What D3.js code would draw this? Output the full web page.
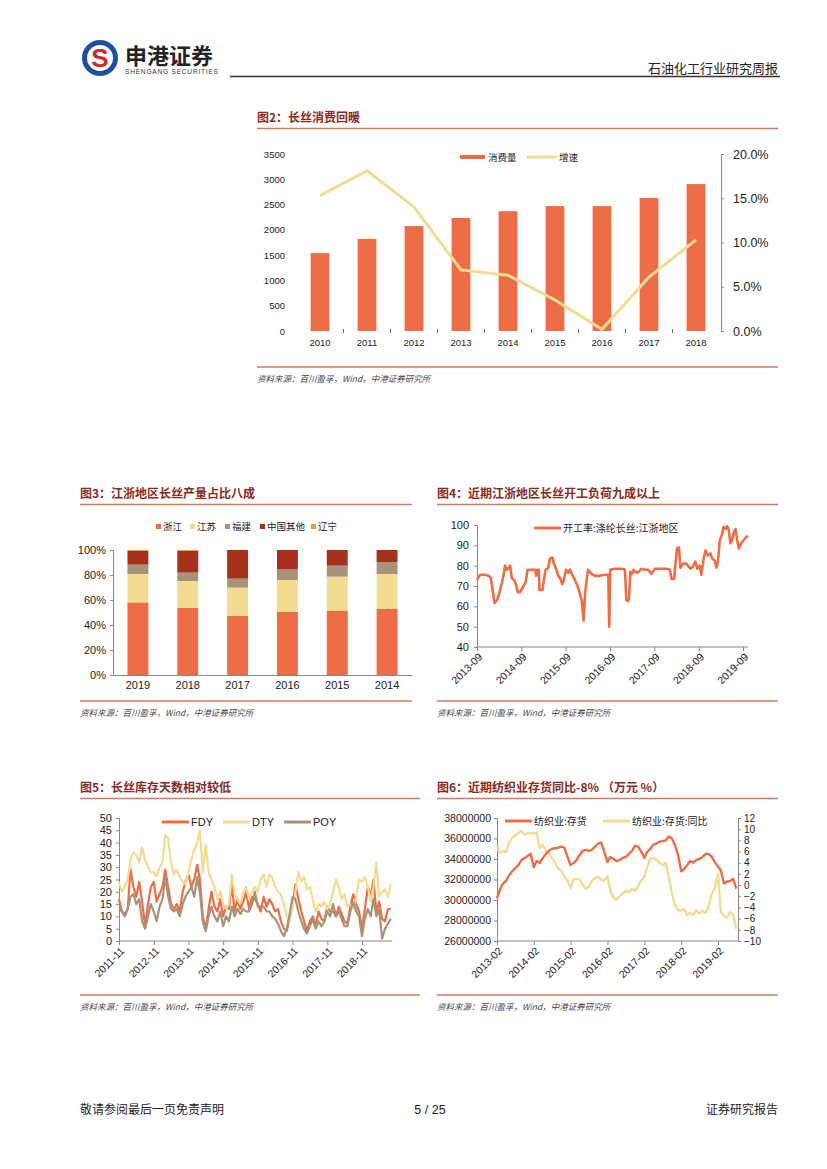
<!DOCTYPE html>
<html>
<head>
<meta charset="utf-8">
<script src="https://cdn.jsdelivr.net/npm/d3@7"></script>
<style>
  body { margin: 0; background: #fff; }
  text { font-family: "Liberation Sans", Arial, sans-serif; }
  .cn { font-family: "Noto Sans CJK SC", sans-serif; }
  .axis path, .axis line { stroke: #888; }
  .axis text { fill: #222; }
</style>
</head>
<body>
<svg id="page" width="827" height="1169"></svg>
<script>
// ---- fig 2 data
var years2 = ["2010", "2011", "2012", "2013", "2014", "2015", "2016", "2017", "2018"];
var consumption = [1540, 1820, 2075, 2235, 2370, 2470, 2470, 2630, 2905];
var growth = [0.153, 0.181, 0.140, 0.069, 0.063, 0.035, 0.002, 0.061, 0.103];
var ticks2Left = [0, 500, 1000, 1500, 2000, 2500, 3000, 3500];
var ticks2Right = [0, 0.05, 0.10, 0.15, 0.20];

// ---- fig 3 data (share of output)
var years3 = ["2019", "2018", "2017", "2016", "2015", "2014"];
var regions3 = ["浙江", "江苏", "福建", "中国其他", "辽宁"];
var zhejiang = [58.1, 53.6, 47.5, 50.4, 51.2, 52.8];
var jiangsu = [22.7, 21.6, 22.4, 25.6, 27.5, 28.0];
var fujian = [7.5, 6.7, 7.2, 8.5, 8.8, 9.6];
var otherCn = [10.9, 17.3, 22.9, 15.5, 12.5, 9.6];
var liaoning = [0.8, 0.8, 0, 0, 0, 0];
var ticks3 = [0, 0.2, 0.4, 0.6, 0.8, 1];

// ---- fig 4 data (operating rate)
var dates4 = ["2013-09-01","2013-09-28","2013-11-08","2013-12-05","2013-12-24","2014-01-10","2014-01-24","2014-02-12","2014-03-02","2014-03-23",
  "2014-04-07","2014-04-20","2014-05-04","2014-05-17","2014-06-01","2014-06-14","2014-07-03","2014-07-19","2014-08-03","2014-08-22",
  "2014-09-19","2014-10-08","2014-10-22","2014-11-26","2014-12-24","2015-01-01","2015-01-12","2015-01-23","2015-01-28","2015-02-22",
  "2015-03-06","2015-03-20","2015-04-11","2015-04-25","2015-05-16","2015-05-27","2015-06-18","2015-07-02","2015-07-21","2015-08-04",
  "2015-08-18","2015-09-04","2015-09-23","2015-10-07","2015-10-25","2015-11-09","2015-12-01","2015-12-20","2016-01-11","2016-01-27",
  "2016-02-08","2016-02-21","2016-03-05","2016-04-02","2016-04-29","2016-06-09","2016-07-20","2016-08-17","2016-08-25","2016-09-03",
  "2016-10-11","2016-12-05","2017-01-02","2017-01-13","2017-01-27","2017-02-04","2017-02-15","2017-03-01","2017-03-15","2017-04-06",
  "2017-04-25","2017-05-17","2017-06-14","2017-07-11","2017-08-08","2017-09-05","2017-10-16","2017-12-10","2018-01-07","2018-01-20",
  "2018-02-11","2018-02-22","2018-03-06","2018-03-22","2018-04-03","2018-04-25","2018-05-22","2018-06-05","2018-06-24","2018-07-16",
  "2018-08-04","2018-08-21","2018-09-10","2018-09-23","2018-10-12","2018-10-28","2018-11-17","2018-12-06","2018-12-22","2019-01-11",
  "2019-01-25","2019-02-08","2019-02-21","2019-03-11","2019-03-24","2019-04-10","2019-04-24","2019-05-07","2019-05-21","2019-06-04",
  "2019-06-18","2019-07-01","2019-07-15","2019-07-29","2019-08-17","2019-09-06","2019-09-28","2019-10-11"];
var rate4 = [73,75.5,75.5,75,74,67,61.5,63,66,71,
  75,80,78,78.5,80,74,73,71,67,67,
  70,72,78,78,78,75,78,78,68,68,
  73,78,79,83.5,84,81,78,75,73.5,71,
  73,78,76.5,78,75.5,74,71,68,63,53,
  66,73,78,76,75,75,75.5,75.5,50,78,
  78.5,78.5,78,63,62.5,64,77,76,78,76.5,
  77,78.5,78,78,76,78.5,78.5,78.5,78,73.5,
  73.5,81,88.5,89,79,81,81,80,78.5,79.5,
  82,78.5,80,75.5,83.5,87.5,85,86,83.5,82.5,
  79,82.5,92.5,95,99,98,99.5,97.5,91,92.5,
  96.5,98,92.5,88.5,91,92.5,94,94.7];
var ticks4x = ["2013-09", "2014-09", "2015-09", "2016-09", "2017-09", "2018-09", "2019-09"];
var ticks4y = [40, 50, 60, 70, 80, 90, 100];

// ---- fig 5 data (inventory days, monthly from 2011-11)
var start5 = "2011-11";
var fdy = [17,12, 11,13,29,22,18,24,16,6,15,22,24,16,
  19,22,29,22,15,13,15,12,20,24,27,22,
  25,31,25,10,5,13,20,14,12,17,10,14,
  13,23,12,17,13,16,20,13,18,17,15,12,
  18,14,17,15,12,13,8,5,4,10,15,23,
  17,12,8,4,8,10,6,12,9,8,14,12,
  12,10,14,11,8,7,14,19,15,12,5,13,
  22,18,25,12,16,9,8,13,13];
var dty = [24,20, 22,25,33,36,35,32,38,33,30,28,28,26,
  30,32,43,42,32,27,29,26,24,23,28,33,
  37,40,45,28,39,28,25,22,17,20,15,13,
  15,27,19,17,15,20,22,17,20,22,20,25,
  27,22,27,26,22,20,19,15,10,8,14,20,
  28,24,26,21,22,17,12,15,14,16,13,15,
  20,25,22,17,19,14,15,13,18,25,24,26,
  22,16,22,32,18,20,21,18,23];
var poy = [13,12, 10,13,18,19,15,17,8,5,10,15,12,8,
  14,17,26,18,13,12,13,10,15,18,20,22,
  18,26,20,8,4,10,14,10,8,12,6,10,
  8,14,10,13,11,13,12,12,15,20,14,14,
  14,12,12,10,9,7,4,2,5,11,18,17,
  12,8,5,3,6,9,5,8,6,8,12,10,
  15,10,12,9,6,6,12,16,12,10,2,9,
  13,10,17,10,13,1,5,7,9];
var ticks5x = ["2011-11", "2012-11", "2013-11", "2014-11", "2015-11", "2016-11", "2017-11", "2018-11"];
var ticks5y = [0, 5, 10, 15, 20, 25, 30, 35, 40, 45, 50];

// ---- fig 6 data (textile inventory, monthly from 2013-02)
var start6 = "2013-02";
var inventory = [30150000,30970000,31600000,31850000,32400000,32800000,33100000,33400000,33900000,34100000,34300000,
  34500000,33200000,33800000,33600000,34100000,34500000,34800000,35000000,35050000,35100000,35200000,35100000,
  34200000,33400000,33600000,33900000,34400000,34800000,34900000,34800000,34900000,35200000,35500000,35600000,
  34700000,33700000,34200000,34000000,33800000,33900000,34100000,34200000,34500000,34800000,35300000,35200000,
  34700000,34100000,34700000,35000000,35400000,35500000,35700000,35750000,35800000,36200000,36000000,35400000,
  34400000,32800000,33000000,33400000,33800000,33650000,33900000,34000000,34200000,34500000,34500000,34200000,
  33700000,33250000,32900000,31600000,31800000,31850000,32050000,31100000];
var inventoryYoy = [7.0,5.8,6.1,5.9,7.6,8.4,8.9,9.3,9.7,9.0,9.3,
  9.3,9.2,9.4,6.6,7.2,6.2,5.6,4.8,4.0,3.0,2.6,1.5,
  0.8,-0.5,1.0,1.1,1.0,0.0,-0.6,-0.3,0.8,1.2,1.5,1.0,
  0.8,1.6,-1.0,-2.3,-2.6,-2.0,-1.5,-1.0,-1.2,-0.7,-1.0,-0.2,
  0.8,1.5,3.2,4.8,4.8,4.5,4.0,3.6,4.0,1.5,-1.5,-3.5,
  -4.5,-4.6,-4.3,-5.4,-5.0,-5.3,-4.5,-5.1,-4.6,-5.0,-3.8,-1.5,
  -0.5,2.0,-4.8,-5.5,-5.8,-4.8,-5.3,-7.8];
var ticks6x = ["2013-02", "2014-02", "2015-02", "2016-02", "2017-02", "2018-02", "2019-02"];
var ticks6Left = [26000000, 28000000, 30000000, 32000000, 34000000, 36000000, 38000000];
var ticks6Right = [-10, -8, -6, -4, -2, 0, 2, 4, 6, 8, 10, 12];

var ORANGE = "#ED6E46", YELLOW = "#F1DC92", BROWN = "#A6937A", DARKRED = "#A5301C", GOLD = "#E5A02E";
var TITLE = "#8A2A1E", RULE = "#D2795E";
var SOURCE = "资料来源：百川盈孚，Wind，中港证券研究所";

var parseDay = d3.timeParse("%Y-%m-%d"),
  parseMonth = d3.timeParse("%Y-%m");

var svg = d3.select("#page");
svg.append("rect").attr("width", 827).attr("height", 1169).attr("fill", "#fff");

// header
var logo = svg.append("g").attr("transform", "translate(100,58)");
logo.append("circle").attr("r", 18).attr("fill", "#1D4F9C");
logo.append("circle").attr("r", 13).attr("fill", "#fff");
logo.append("text").attr("text-anchor", "middle").attr("y", 9).attr("font-size", 26)
  .attr("font-weight", "bold").attr("fill", "#D7262B").attr("font-family", "DejaVu Sans").text("S");
svg.append("text").attr("class", "cn").attr("x", 125).attr("y", 64).attr("font-size", 22)
  .attr("font-weight", "bold").attr("fill", "#222").text("申港证券");
svg.append("text").attr("x", 125).attr("y", 74).attr("font-size", 6.6).attr("fill", "#333")
  .attr("textLength", 93).text("SHENGANG SECURITIES");
svg.append("line").attr("x1", 230).attr("x2", 780).attr("y1", 76.5).attr("y2", 76.5)
  .attr("stroke", "#333").attr("stroke-width", 1.4);
svg.append("text").attr("class", "cn").attr("x", 778).attr("y", 73).attr("text-anchor", "end")
  .attr("font-size", 13).attr("fill", "#222").text("石油化工行业研究周报");

// footer
svg.append("text").attr("class", "cn").attr("x", 80).attr("y", 1114).attr("font-size", 12)
  .attr("fill", "#222").text("敬请参阅最后一页免责声明");
svg.append("text").attr("x", 430).attr("y", 1114).attr("text-anchor", "middle").attr("font-size", 12.5)
  .attr("fill", "#222").text("5 / 25");
svg.append("text").attr("class", "cn").attr("x", 778).attr("y", 1114).attr("text-anchor", "end")
  .attr("font-size", 12).attr("fill", "#222").text("证券研究报告");

// frame of one figure: title, rules, source
function frame(x1, x2, titleY, bottomY, title) {
  svg.append("text").attr("class", "cn").attr("x", x1).attr("y", titleY).attr("font-size", 12)
    .attr("font-weight", "bold").attr("fill", TITLE).text(title);
  svg.append("line").attr("x1", x1).attr("x2", x2).attr("y1", titleY + 6.5).attr("y2", titleY + 6.5)
    .attr("stroke", RULE).attr("stroke-width", 1.3);
  svg.append("line").attr("x1", x1).attr("x2", x2).attr("y1", bottomY).attr("y2", bottomY)
    .attr("stroke", RULE).attr("stroke-width", 1.3);
  svg.append("text").attr("class", "cn").attr("x", x1).attr("y", bottomY + 15).attr("font-size", 8.5)
    .attr("font-style", "italic").attr("fill", "#444").text(SOURCE);
}

// rotated date labels under an axis, ending just below the tick
function rotateLabels(sel) {
  sel.selectAll(".tick text")
    .attr("x", 0).attr("y", 0).attr("dy", "0.35em")
    .attr("text-anchor", "end")
    .attr("transform", "translate(3,8) rotate(-45)");
}

function lineLegend(x, y, color, label, cls) {
  svg.append("line").attr("x1", x).attr("x2", x + 27).attr("y1", y).attr("y2", y)
    .attr("stroke", color).attr("stroke-width", 3);
  svg.append("text").attr("class", cls || null).attr("x", x + 29).attr("y", y + 4)
    .attr("font-size", cls ? 10 : 11).attr("fill", "#222").text(label);
}

// ================= fig 2
frame(257, 778, 122, 367, "图2：长丝消费回暖");

var x2 = d3.scaleBand().domain(years2).range([296.5, 719.5]).paddingInner(0.6).paddingOuter(0.3),
  y2 = d3.scaleLinear().domain([0, 3500]).range([331, 154]),
  y2r = d3.scaleLinear().domain([0, 0.2]).range([331, 154]);

svg.append("g").attr("class", "axis").attr("transform", "translate(289,0)")
  .call(d3.axisLeft(y2).tickValues(ticks2Left).tickFormat(d3.format("d")).tickSize(0).tickPadding(4))
  .call(function (g) { g.select(".domain").remove(); })
  .selectAll("text").attr("font-size", 9.5).attr("fill", "#333");

svg.append("g").attr("class", "axis").attr("transform", "translate(721,0)")
  .call(d3.axisRight(y2r).tickValues(ticks2Right).tickFormat(d3.format(".1%")).tickSize(3).tickPadding(9))
  .selectAll("text").attr("font-size", 12.5).attr("fill", "#333");

svg.append("g").attr("class", "axis").attr("transform", "translate(0,331)")
  .call(d3.axisBottom(x2).tickSize(0).tickPadding(8))
  .call(function (g) { g.select(".domain").remove(); })
  .selectAll("text").attr("font-size", 9.5).attr("fill", "#333");

// small separators between categories
svg.append("g").selectAll("line")
  .data(years2.slice(0, -1))
  .enter().append("line")
  .attr("x1", function (d) { return x2(d) + x2.bandwidth() + x2.step() * 0.3; })
  .attr("x2", function (d) { return x2(d) + x2.bandwidth() + x2.step() * 0.3; })
  .attr("y1", 329).attr("y2", 333)
  .attr("stroke", "#666");

svg.append("g").selectAll("rect")
  .data(years2)
  .enter().append("rect")
  .attr("x", function (d) { return x2(d); })
  .attr("width", x2.bandwidth())
  .attr("y", function (d, i) { return y2(consumption[i]); })
  .attr("height", function (d, i) { return y2(0) - y2(consumption[i]); })
  .attr("fill", ORANGE);

svg.append("path")
  .datum(growth)
  .attr("fill", "none").attr("stroke", YELLOW).attr("stroke-width", 3)
  .attr("d", d3.line()
    .x(function (d, i) { return x2(years2[i]) + x2.bandwidth() / 2; })
    .y(function (d) { return y2r(d); }));

svg.append("rect").attr("x", 460).attr("y", 155).attr("width", 25).attr("height", 4).attr("fill", ORANGE);
svg.append("text").attr("class", "cn").attr("x", 488).attr("y", 161).attr("font-size", 9.5).attr("fill", "#222").text("消费量");
svg.append("line").attr("x1", 527).attr("x2", 557).attr("y1", 157).attr("y2", 157).attr("stroke", YELLOW).attr("stroke-width", 3);
svg.append("text").attr("class", "cn").attr("x", 559).attr("y", 161).attr("font-size", 9.5).attr("fill", "#222").text("增速");

// ================= fig 3
frame(80, 412, 498, 701, "图3：江浙地区长丝产量占比八成");

var x3 = d3.scaleBand().domain(years3).range([113, 412]).paddingInner(0.58).paddingOuter(0.29),
  y3 = d3.scaleLinear().domain([0, 1]).range([675, 550]);

var rows3 = years3.map(function (y, i) {
  return { year: y, "浙江": zhejiang[i], "江苏": jiangsu[i], "福建": fujian[i], "中国其他": otherCn[i], "辽宁": liaoning[i] };
});
var stack3 = d3.stack().keys(regions3).offset(d3.stackOffsetExpand)(rows3);
var color3 = d3.scaleOrdinal().domain(regions3).range([ORANGE, YELLOW, BROWN, DARKRED, GOLD]);

svg.append("g").selectAll("g")
  .data(stack3)
  .enter().append("g")
  .attr("fill", function (s) { return color3(s.key); })
  .selectAll("rect")
  .data(function (s) { return s; })
  .enter().append("rect")
  .attr("x", function (d) { return x3(d.data.year); })
  .attr("width", x3.bandwidth())
  .attr("y", function (d) { return y3(d[1]); })
  .attr("height", function (d) { return y3(d[0]) - y3(d[1]); });

svg.append("g").attr("class", "axis").attr("transform", "translate(113,0)")
  .call(d3.axisLeft(y3).tickValues(ticks3).tickFormat(d3.format(".0%")).tickSize(3).tickPadding(4))
  .selectAll("text").attr("font-size", 11);
svg.append("g").attr("class", "axis").attr("transform", "translate(0,675)")
  .call(d3.axisBottom(x3).tickSize(0).tickPadding(6))
  .selectAll("text").attr("font-size", 11);

var legend3X = [156, 190, 225, 260, 311];
regions3.forEach(function (r, i) {
  svg.append("rect").attr("x", legend3X[i]).attr("y", 524).attr("width", 5).attr("height", 5).attr("fill", color3(r));
  svg.append("text").attr("class", "cn").attr("x", legend3X[i] + 7).attr("y", 530).attr("font-size", 9.5)
    .attr("fill", "#222").text(r);
});

// ================= fig 4
frame(437, 778, 498, 701, "图4：近期江浙地区长丝开工负荷九成以上");

var x4 = d3.scaleTime().domain([parseMonth(ticks4x[0]), parseMonth(ticks4x[6])]).range([477, 743]),
  y4 = d3.scaleLinear().domain([40, 100]).range([647, 525]);

svg.append("g").attr("class", "axis").attr("transform", "translate(477,0)")
  .call(d3.axisLeft(y4).tickValues(ticks4y).tickSize(3).tickPadding(5))
  .selectAll("text").attr("font-size", 11);
svg.append("g").attr("class", "axis").attr("transform", "translate(0,647)")
  .call(d3.axisBottom(x4).tickValues(ticks4x.map(parseMonth)).tickFormat(d3.timeFormat("%Y-%m")).tickSize(4))
  .call(function (g) { g.select(".domain").attr("d", "M477,0H748"); })
  .call(rotateLabels)
  .selectAll("text").attr("font-size", 10.5);

svg.append("path")
  .datum(rate4)
  .attr("fill", "none").attr("stroke", ORANGE).attr("stroke-width", 2.6).attr("stroke-linejoin", "round")
  .attr("d", d3.line()
    .x(function (d, i) { return x4(parseDay(dates4[i])); })
    .y(function (d) { return y4(d); }));

lineLegend(534, 528, ORANGE, "开工率:涤纶长丝:江浙地区", "cn");

// ================= fig 5
frame(80, 420, 792, 995, "图5：长丝库存天数相对较低");

var x5 = d3.scaleTime().domain([parseMonth(ticks5x[0]), parseMonth(ticks5x[7])]).range([119, 362]),
  y5 = d3.scaleLinear().domain([0, 50]).range([941, 818]);

svg.append("g").attr("class", "axis").attr("transform", "translate(119,0)")
  .call(d3.axisLeft(y5).tickValues(ticks5y).tickSize(3).tickPadding(4))
  .selectAll("text").attr("font-size", 11);
svg.append("g").attr("class", "axis").attr("transform", "translate(0,941)")
  .call(d3.axisBottom(x5).tickValues(ticks5x.map(parseMonth)).tickFormat(d3.timeFormat("%Y-%m")).tickSize(4))
  .call(function (g) { g.select(".domain").attr("d", "M119,0H392"); })
  .call(rotateLabels)
  .selectAll("text").attr("font-size", 10.5);

var line5 = d3.line()
  .x(function (d, i) { return x5(d3.timeMonth.offset(parseMonth(start5), i)); })
  .y(function (d) { return y5(d); });
[[fdy, ORANGE], [dty, YELLOW], [poy, BROWN]].forEach(function (s) {
  svg.append("path").datum(s[0])
    .attr("fill", "none").attr("stroke", s[1]).attr("stroke-width", 2.2).attr("stroke-linejoin", "round")
    .attr("d", line5);
});

lineLegend(162, 822, ORANGE, "FDY");
lineLegend(223, 822, YELLOW, "DTY");
lineLegend(284, 822, BROWN, "POY");

// ================= fig 6
frame(437, 778, 792, 995, "图6：近期纺织业存货同比-8% （万元 %）");

var x6 = d3.scaleTime().domain([parseMonth(ticks6x[0]), parseMonth(ticks6x[6])]).range([497, 718]),
  y6 = d3.scaleLinear().domain([26000000, 38000000]).range([941, 818]),
  y6r = d3.scaleLinear().domain([-10, 12]).range([941, 818]);

svg.append("g").attr("class", "axis").attr("transform", "translate(497,0)")
  .call(d3.axisLeft(y6).tickValues(ticks6Left).tickFormat(d3.format("d")).tickSize(3).tickPadding(3))
  .selectAll("text").attr("font-size", 10.5);
svg.append("g").attr("class", "axis").attr("transform", "translate(738,0)")
  .call(d3.axisRight(y6r).tickValues(ticks6Right).tickSize(3).tickPadding(3))
  .selectAll("text").attr("font-size", 10);
svg.append("g").attr("class", "axis").attr("transform", "translate(0,941)")
  .call(d3.axisBottom(x6).tickValues(ticks6x.map(parseMonth)).tickFormat(d3.timeFormat("%Y-%m")).tickSize(4))
  .call(function (g) { g.select(".domain").attr("d", "M497,0H738"); })
  .call(rotateLabels)
  .selectAll("text").attr("font-size", 10.5);

var month6 = function (i) { return x6(d3.timeMonth.offset(parseMonth(start6), i)); };
svg.append("path").datum(inventoryYoy)
  .attr("fill", "none").attr("stroke", YELLOW).attr("stroke-width", 2.4).attr("stroke-linejoin", "round")
  .attr("d", d3.line().x(function (d, i) { return month6(i); }).y(function (d) { return y6r(d); }));
svg.append("path").datum(inventory)
  .attr("fill", "none").attr("stroke", ORANGE).attr("stroke-width", 2.4).attr("stroke-linejoin", "round")
  .attr("d", d3.line().x(function (d, i) { return month6(i); }).y(function (d) { return y6(d); }));

lineLegend(505, 821, ORANGE, "纺织业:存货", "cn");
lineLegend(603, 821, YELLOW, "纺织业:存货:同比", "cn");
</script>
</body>
</html>
